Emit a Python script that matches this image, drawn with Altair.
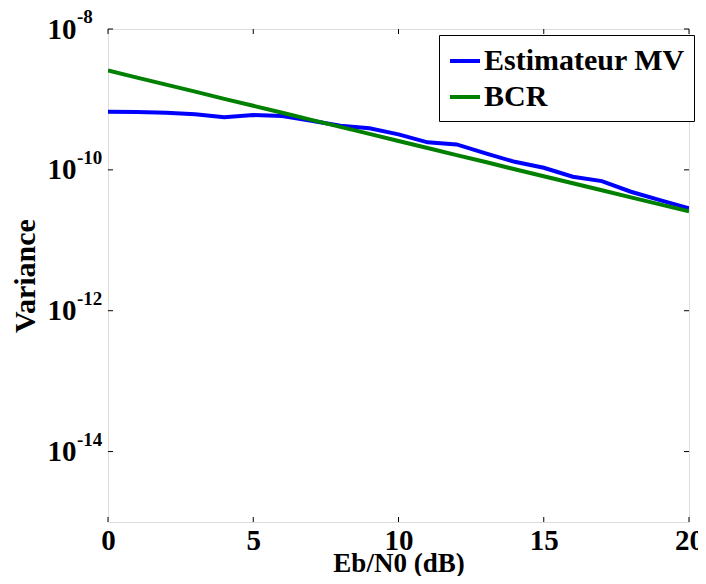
import altair as alt
import pandas as pd

ebn0 = list(range(0, 21))
var_mv = [6.68e-10, 6.62e-10, 6.47e-10, 6.14e-10, 5.57e-10, 6.0e-10, 5.8e-10,
          4.98e-10, 4.23e-10, 3.89e-10, 3.19e-10, 2.46e-10, 2.30e-10, 1.71e-10,
          1.30e-10, 1.07e-10, 7.98e-11, 6.93e-11, 4.89e-11, 3.72e-11, 2.84e-11]
var_bcr = [2.57e-9, 2.04e-9, 1.62e-9, 1.29e-9, 1.02e-9, 8.13e-10, 6.46e-10,
           5.13e-10, 4.07e-10, 3.24e-10, 2.57e-10, 2.04e-10, 1.62e-10, 1.29e-10,
           1.02e-10, 8.13e-11, 6.46e-11, 5.13e-11, 4.07e-11, 3.24e-11, 2.57e-11]
series_names = ["Estimateur MV", "BCR"]
series_colors = ["#0000ff", "#008000"]
x_ticks = [0, 5, 10, 15, 20]
y_ticks = [1e-14, 1e-12, 1e-10, 1e-8]
y_exponents = ["-14", "-12", "-10", "-8"]

rows = []
for name, vals in zip(series_names, [var_mv, var_bcr]):
    for x, v in zip(ebn0, vals):
        rows.append({"x": x, "v": v, "s": name})
df = pd.DataFrame(rows)

FONT = "Liberation Serif"
W, H = 581, 493

xscale = alt.Scale(domain=[0, 20], nice=False)
yscale = alt.Scale(type="log", domain=[1e-15, 1e-8], nice=False)

lines = alt.Chart(df).mark_line(strokeWidth=4, clip=True).encode(
    x=alt.X("x:Q", scale=xscale,
            axis=alt.Axis(title="Eb/N0 (dB)", values=x_ticks, grid=False, ticks=False,
                          domain=False, labelFont=FONT, labelFontSize=29,
                          labelFontWeight="bold", labelColor="black", labelPadding=4,
                          titleFont=FONT, titleFontSize=27, titleFontWeight="bold",
                          titleColor="black", titleY=49, titleBaseline="alphabetic",
                          labelFlush=False)),
    y=alt.Y("v:Q", scale=yscale,
            axis=alt.Axis(title="Variance", values=y_ticks, grid=False, ticks=False,
                          domain=False, labelExpr="'10'", labelFont=FONT,
                          labelFontSize=29, labelFontWeight="bold", labelColor="black",
                          labelPadding=32, titleFont=FONT, titleFontSize=30,
                          titleFontWeight="bold", titleColor="black", titlePadding=7)),
    color=alt.Color("s:N", scale=alt.Scale(domain=series_names, range=series_colors),
                    sort=series_names,
                    legend=alt.Legend(title=None, orient="none", legendX=331, legendY=6,
                                      symbolType="stroke", symbolStrokeWidth=4,
                                      symbolSize=900, labelFont=FONT, labelFontSize=30,
                                      labelFontWeight="bold", labelColor="black",
                                      labelOffset=2, padding=9, rowPadding=4,
                                      strokeColor="black", fillColor="white",
                                      cornerRadius=0, labelLimit=400)),
)

exp_df = pd.DataFrame({"v": y_ticks, "e": y_exponents})
exps = alt.Chart(exp_df).mark_text(
    align="left", baseline="alphabetic", font=FONT, fontSize=19, fontWeight="bold",
    color="black", dy=-6,
).encode(y=alt.Y("v:Q", scale=yscale), x=alt.value(-31), text="e:N")

xt = pd.DataFrame({"x": x_ticks})
yt = pd.DataFrame({"v": y_ticks})
tick_style = dict(color="black", strokeWidth=1)
xb = alt.Chart(xt).mark_rule(**tick_style).encode(
    x=alt.X("x:Q", scale=xscale), y=alt.value(H), y2=alt.value(H - 5))
xtop = alt.Chart(xt).mark_rule(**tick_style).encode(
    x=alt.X("x:Q", scale=xscale), y=alt.value(0), y2=alt.value(5))
yl = alt.Chart(yt).mark_rule(**tick_style).encode(
    y=alt.Y("v:Q", scale=yscale), x=alt.value(0), x2=alt.value(5))
yr = alt.Chart(yt).mark_rule(**tick_style).encode(
    y=alt.Y("v:Q", scale=yscale), x=alt.value(W), x2=alt.value(W - 5))

chart = alt.layer(xb, xtop, yl, yr, lines, exps).properties(
    width=W, height=H,
    autosize=alt.AutoSizeParams(type="none"),
    padding={"left": 100, "top": 21, "right": 9, "bottom": 54},
).configure_view(stroke="black", strokeWidth=2).configure(background="white")

chart.save("out.html", embed_options={"renderer": "svg", "actions": False})
